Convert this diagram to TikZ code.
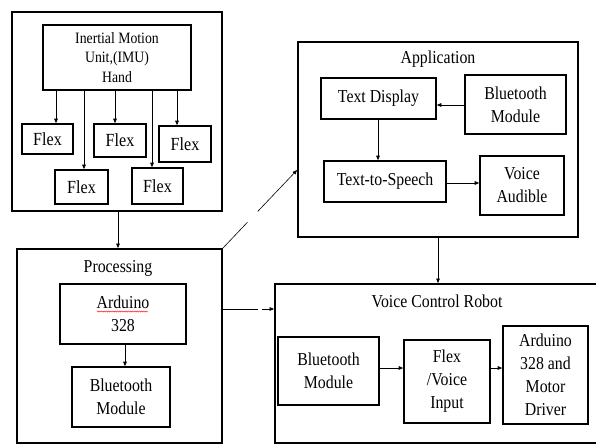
\documentclass[tikz,border=0pt]{standalone}
\usepackage{fontspec}
\setmainfont{Liberation Serif}[FakeStretch=0.87]
\usetikzlibrary{arrows.meta,calc,decorations.pathmorphing}
\begin{document}
\begin{tikzpicture}[x=1pt,y=-1pt,
  box/.style={draw=black, line width=1.6pt, inner sep=0pt, align=center,
     font=\fontsize{18.2}{23}\selectfont},
  big/.style={draw=black, line width=1.8pt, inner sep=0pt},
  ttl/.style={inner sep=0pt, font=\fontsize{18.2}{23}\selectfont},
  arr/.style={line width=0.6pt, -{Triangle[length=4.5pt,width=3.6pt]}},
  ln/.style={line width=0.6pt}]
\useasboundingbox (0,0) rectangle (596,444);
% --- sensor block
\node[big, minimum width=210pt, minimum height=199pt] (sensor) at (117,111.5) {};
\node[box, minimum width=148pt, minimum height=65pt, font=\fontsize{15.8}{19.5}\selectfont] (imu) at (117,57.5) {Inertial Motion\\Unit,(IMU)\\Hand};
\node[box, minimum width=51pt, minimum height=30pt, font=\fontsize{18.5}{23}\selectfont] (f1) at (47.5,139) {Flex};
\node[box, minimum width=52pt, minimum height=33pt, font=\fontsize{18.5}{23}\selectfont] (f2) at (120,140.5) {Flex};
\node[box, minimum width=52pt, minimum height=36pt, font=\fontsize{18.5}{23}\selectfont] (f3) at (185,144) {Flex};
\node[box, minimum width=53pt, minimum height=34pt, font=\fontsize{18.5}{23}\selectfont] (f4) at (81.5,187) {Flex};
\node[box, minimum width=51pt, minimum height=36pt, font=\fontsize{18.5}{23}\selectfont] (f5) at (157.5,186) {Flex};
\coordinate (x1) at (56,0);
\coordinate (x2) at (84,0);
\coordinate (x3) at (115,0);
\coordinate (x4) at (152,0);
\coordinate (x5) at (177,0);
\draw[arr] (imu.south -| x1) -- (f1.north -| x1);
\draw[arr] (imu.south -| x2) -- (f4.north -| x2);
\draw[arr] (imu.south -| x3) -- (f2.north -| x3);
\draw[arr] (imu.south -| x4) -- (f5.north -| x4);
\draw[arr] (imu.south -| x5) -- (f3.north -| x5);
% --- processing block
\node[big, minimum width=205pt, minimum height=194pt] (proc) at (119.5,346) {};
\node[ttl] (proct) at (118,268) {Processing};
\node[box, minimum width=126pt, minimum height=60pt] (ard) at (123,314) {Arduino\\328};
\draw[red, line width=0.4pt, decorate, decoration={snake, amplitude=0.6pt, segment length=2.2pt}] (97,311.5) -- (148,311.5);
\node[box, minimum width=98pt, minimum height=60pt] (pbt) at (121,397) {Bluetooth\\Module};
\coordinate (x6) at (118,0);
\coordinate (x7) at (125,0);
\draw[arr] (sensor.south -| x6) -- (proc.north -| x6);
\draw[arr] (ard.south -| x7) -- (pbt.north -| x7);
% --- application block
\node[big, minimum width=280pt, minimum height=195pt] (app) at (438,139.5) {};
\node[ttl] (appt) at (438,59) {Application};
\node[box, minimum width=115pt, minimum height=41pt] (td) at (378.5,98.5) {Text Display};
\node[box, minimum width=101pt, minimum height=59pt] (abt) at (515.5,104.5) {Bluetooth\\Module};
\node[box, minimum width=122pt, minimum height=41pt] (tts) at (385,181.5) {Text-to-Speech};
\node[box, minimum width=84pt, minimum height=59pt] (va) at (522,185.5) {Voice\\Audible};
\coordinate (y1) at (0,105);
\coordinate (y2) at (0,183);
\coordinate (x8) at (378,0);
\draw[arr] (abt.west |- y1) -- (td.east |- y1);
\draw[arr] (td.south -| x8) -- (tts.north -| x8);
\draw[arr] (tts.east |- y2) -- (va.west |- y2);
% --- voice control robot block
\node[big, minimum width=345pt, minimum height=159pt] (vcr) at (447.5,363.5) {};
\node[ttl] (vcrt) at (437,301) {Voice Control Robot};
\node[box, minimum width=101pt, minimum height=68pt] (vbt) at (328.5,371) {Bluetooth\\Module};
\node[box, minimum width=86pt, minimum height=83pt] (fvi) at (447,381.5) {Flex\\/Voice\\Input};
\node[box, minimum width=85pt, minimum height=98pt] (amd) at (545.5,375) {Arduino\\328 and\\Motor\\Driver};
\coordinate (y3) at (0,368);
\draw[arr] (vbt.east |- y3) -- (fvi.west |- y3);
\draw[arr] (fvi.east |- y3) -- (amd.west |- y3);
\coordinate (x9) at (438,0);
\draw[arr] (app.south -| x9) -- (vcr.north -| x9);
% --- dashed links from processing
\coordinate (y4) at (0,170);
\coordinate (y5) at (0,309);
\coordinate (dt) at (app.west |- y4);
\draw[ln] (proc.north east) -- ($(proc.north east)!0.33!(dt)$);
\draw[arr] ($(proc.north east)!0.47!(dt)$) -- (dt);
\coordinate (hs) at (proc.east |- y5);
\coordinate (he) at (vcr.west |- y5);
\draw[ln] (hs) -- ($(hs)!0.68!(he)$);
\draw[arr] ($(hs)!0.755!(he)$) -- (he);
\end{tikzpicture}
\end{document}
